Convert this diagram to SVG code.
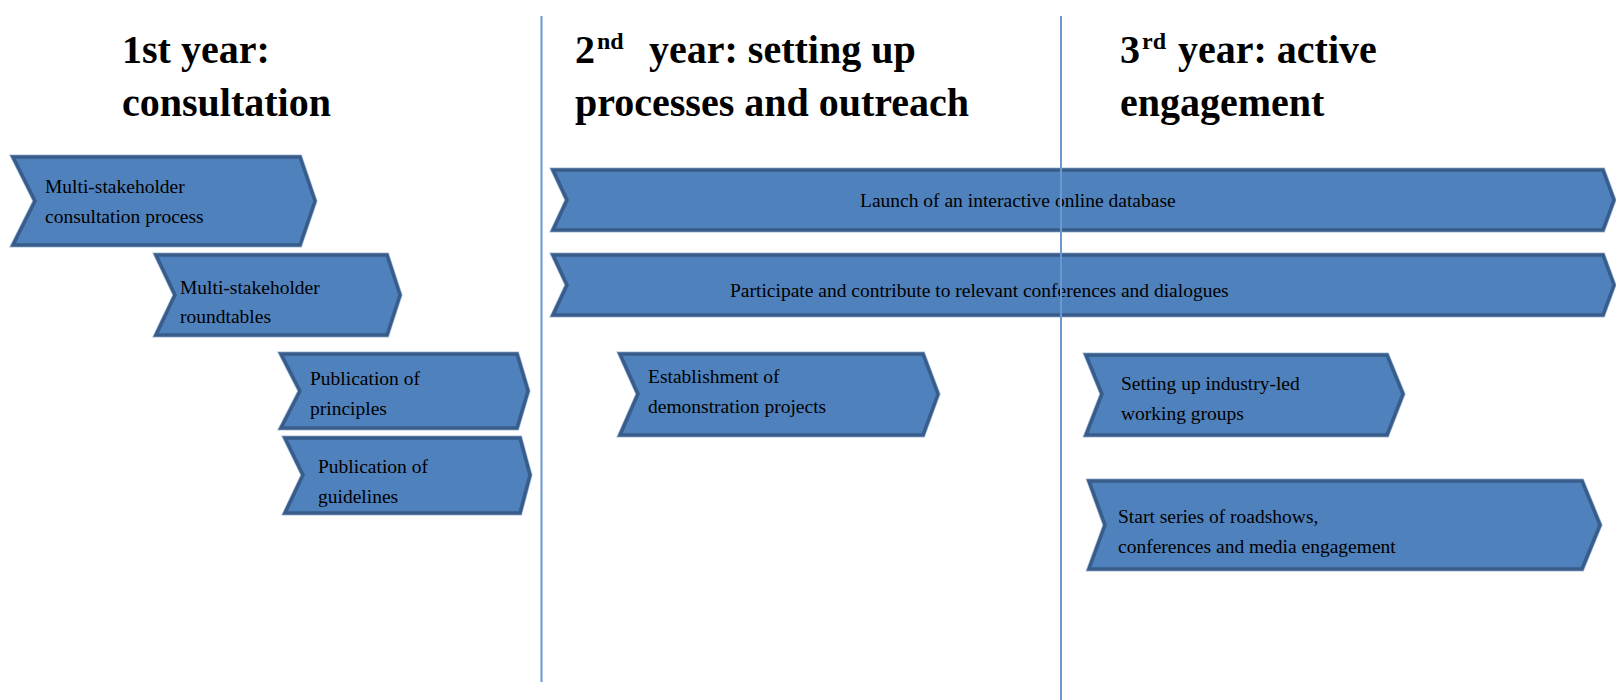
<svg xmlns="http://www.w3.org/2000/svg" width="1616" height="700" viewBox="0 0 1616 700">
<style>
.bg{fill:#ffffff}
.halo{fill:none;stroke:#A9C0DE;stroke-width:5;stroke-linejoin:miter}
.chev{fill:#4F81BD;stroke:#385D8A;stroke-width:3.5;stroke-linejoin:miter}
.lbl{font-family:"Liberation Serif","Times New Roman",serif;font-size:19.5px;fill:#000000}
.title{font-family:"Liberation Serif","Times New Roman",serif;font-size:40px;font-weight:bold;fill:#000000}
.sup{font-size:24px}
.divider{stroke:#6A98CF;stroke-width:2}
</style>
<rect class="bg" x="0" y="0" width="1616" height="700"/>

<g id="titles">
  <text class="title" x="122" y="63">1st year:</text>
  <text class="title" x="122" y="116">consultation</text>
  <text class="title" x="575" y="63">2</text>
  <text class="title sup" x="597" y="49">nd</text>
  <text class="title" x="649" y="63">year: setting up</text>
  <text class="title" x="575" y="116">processes and outreach</text>
  <text class="title" x="1120" y="63">3</text>
  <text class="title sup" x="1142" y="49">rd</text>
  <text class="title" x="1178" y="63">year: active</text>
  <text class="title" x="1120" y="116">engagement</text>
</g>

<g id="n1">
  <path class="halo" d="M13,157 L300,157 L315,201 L300,245 L13,245 L35,201 Z"/>
  <path class="chev" d="M13,157 L300,157 L315,201 L300,245 L13,245 L35,201 Z"/>
  <text class="lbl" x="45" y="193">Multi-stakeholder</text>
  <text class="lbl" x="45" y="223">consultation process</text>
</g>

<g id="n2">
  <path class="halo" d="M156,255 L387,255 L400,295 L387,335 L156,335 L175,295 Z"/>
  <path class="chev" d="M156,255 L387,255 L400,295 L387,335 L156,335 L175,295 Z"/>
  <text class="lbl" x="180" y="294">Multi-stakeholder</text>
  <text class="lbl" x="180" y="323">roundtables</text>
</g>

<g id="n3">
  <path class="halo" d="M281,354 L517,354 L528,391 L517,428 L281,428 L300,391 Z"/>
  <path class="chev" d="M281,354 L517,354 L528,391 L517,428 L281,428 L300,391 Z"/>
  <text class="lbl" x="310" y="385">Publication of</text>
  <text class="lbl" x="310" y="415">principles</text>
</g>

<g id="n4">
  <path class="halo" d="M285,438 L520,438 L530,475 L520,513 L285,513 L303,475 Z"/>
  <path class="chev" d="M285,438 L520,438 L530,475 L520,513 L285,513 L303,475 Z"/>
  <text class="lbl" x="318" y="473">Publication of</text>
  <text class="lbl" x="318" y="503">guidelines</text>
</g>

<g id="n5">
  <path class="halo" d="M553,170 L1603,170 L1614,200 L1603,230 L553,230 L567,200 Z"/>
  <path class="chev" d="M553,170 L1603,170 L1614,200 L1603,230 L553,230 L567,200 Z"/>
  <text class="lbl" x="860" y="207">Launch of an interactive online database</text>
</g>

<g id="n6">
  <path class="halo" d="M553,255 L1603,255 L1614,285 L1603,315 L553,315 L567,285 Z"/>
  <path class="chev" d="M553,255 L1603,255 L1614,285 L1603,315 L553,315 L567,285 Z"/>
  <text class="lbl" x="730" y="297">Participate and contribute to relevant conferences and dialogues</text>
</g>

<g id="n7">
  <path class="halo" d="M620,354 L923,354 L938,394 L923,435 L620,435 L638,394 Z"/>
  <path class="chev" d="M620,354 L923,354 L938,394 L923,435 L620,435 L638,394 Z"/>
  <text class="lbl" x="648" y="383">Establishment of</text>
  <text class="lbl" x="648" y="413">demonstration projects</text>
</g>

<g id="n8">
  <path class="halo" d="M1086,355 L1387,355 L1403,394 L1387,435 L1086,435 L1102,394 Z"/>
  <path class="chev" d="M1086,355 L1387,355 L1403,394 L1387,435 L1086,435 L1102,394 Z"/>
  <text class="lbl" x="1121" y="390">Setting up industry-led</text>
  <text class="lbl" x="1121" y="420">working groups</text>
</g>

<g id="n9">
  <path class="halo" d="M1089,481 L1582,481 L1600,525 L1582,569 L1089,569 L1105,525 Z"/>
  <path class="chev" d="M1089,481 L1582,481 L1600,525 L1582,569 L1089,569 L1105,525 Z"/>
  <text class="lbl" x="1118" y="523">Start series of roadshows,</text>
  <text class="lbl" x="1118" y="553">conferences and media engagement</text>
</g>

<g id="connectors">
  <line class="divider" x1="541.5" y1="16" x2="541.5" y2="682"/>
  <line class="divider" x1="1061" y1="16" x2="1061" y2="700"/>
</g>
</svg>
